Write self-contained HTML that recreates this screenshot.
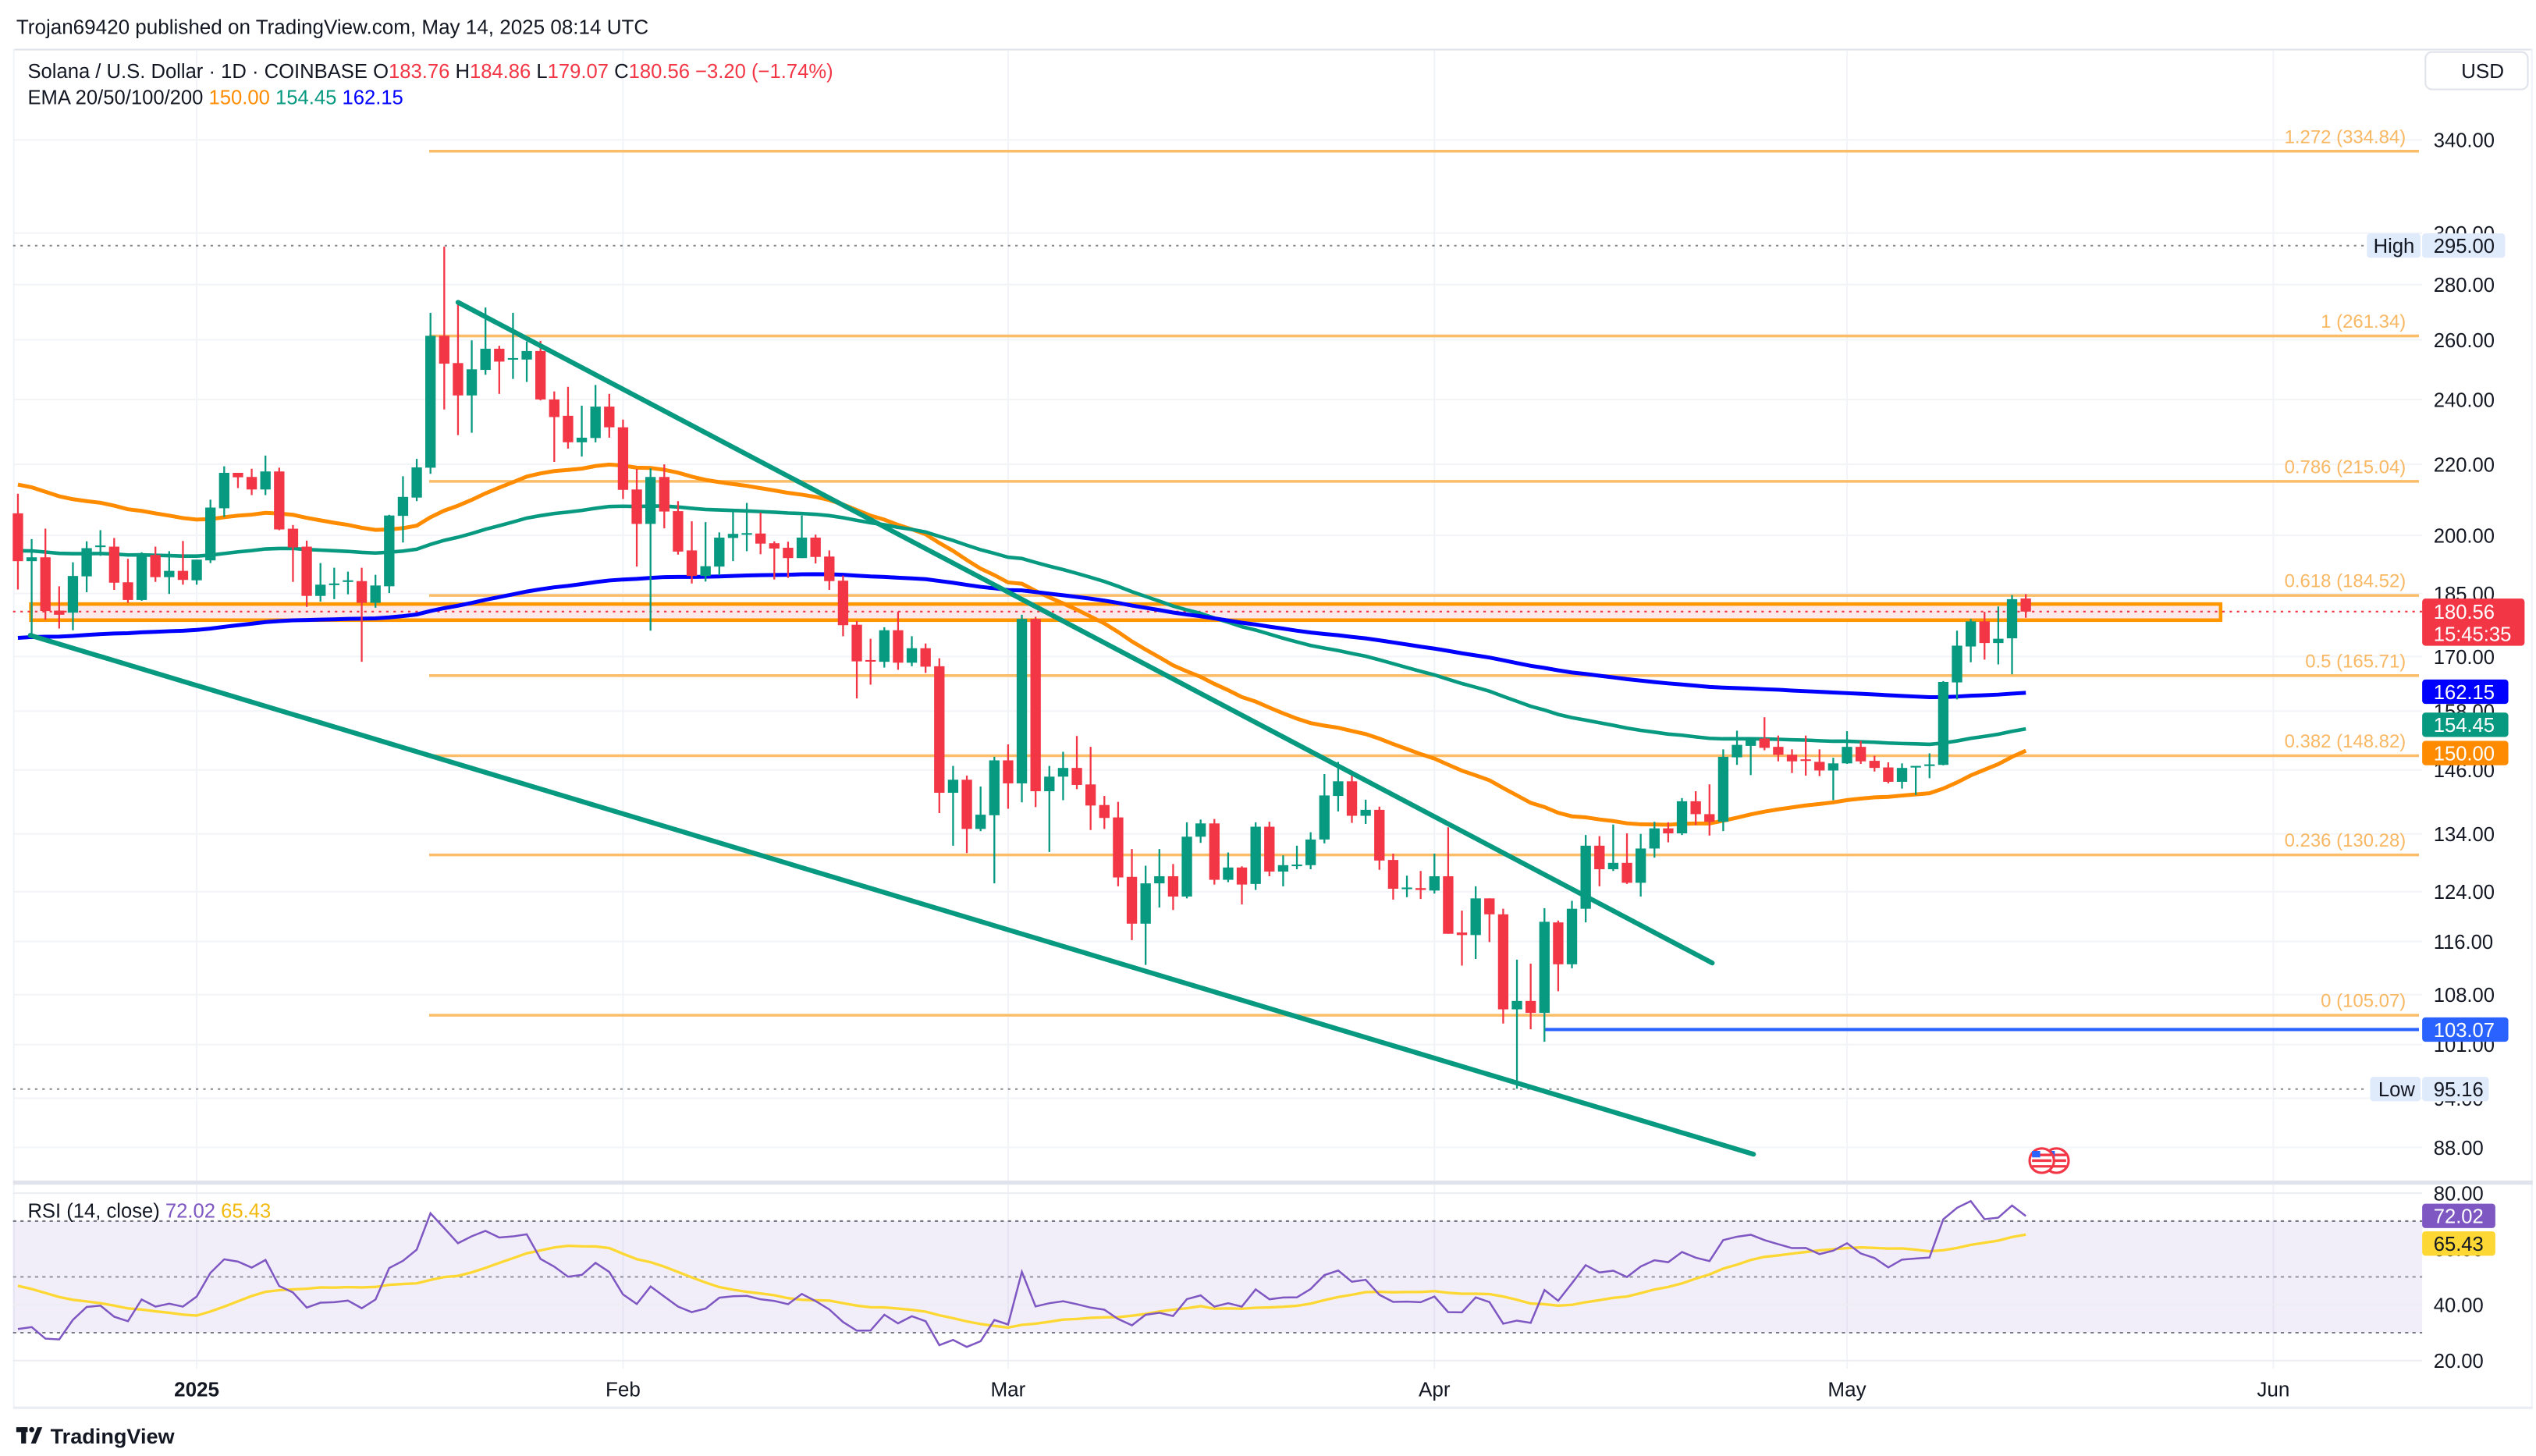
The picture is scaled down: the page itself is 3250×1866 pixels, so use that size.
<!DOCTYPE html>
<html><head><meta charset="utf-8"><style>
html,body{margin:0;padding:0;background:#fff;}
svg{display:block;font-family:"Liberation Sans",sans-serif;}
</style></head><body>
<svg id="chart" width="3250" height="1866" viewBox="0 0 1560 895.7" xmlns="http://www.w3.org/2000/svg">
<rect x="0" y="0" width="1560" height="896" fill="#ffffff"/>
<text x="10" y="21" font-size="12.5" fill="#131722">Trojan69420 published on TradingView.com, May 14, 2025 08:14 UTC</text>
<line x1="8" y1="30.5" x2="1558" y2="30.5" stroke="#e0e3eb" stroke-width="1"/>
<line x1="8.5" y1="30" x2="8.5" y2="866" stroke="#f0f3fa" stroke-width="1"/>
<line x1="1557.5" y1="30" x2="1557.5" y2="866" stroke="#f0f3fa" stroke-width="1"/>
<line x1="8" y1="866" x2="1558" y2="866" stroke="#e9ecf2" stroke-width="1.5"/>
<g id="grid"></g>
<g id="fib"></g>
<g id="overlay"></g>
<g id="ema"></g>
<g id="candles"></g>
<g id="trend"></g>
<g id="rsi"></g>
<g id="axis"></g>
<g id="taxis"></g>
<g>
<text x="17" y="48" font-size="12.3" fill="#131722">Solana / U.S. Dollar · 1D · COINBASE  <tspan>O</tspan><tspan fill="#f23645">183.76</tspan>  H<tspan fill="#f23645">184.86</tspan>  L<tspan fill="#f23645">179.07</tspan>  C<tspan fill="#f23645">180.56</tspan>  <tspan fill="#f23645">−3.20 (−1.74%)</tspan></text>
<text x="17" y="64" font-size="12.3" fill="#131722">EMA 20/50/100/200  <tspan fill="#ff8c00">150.00</tspan>  <tspan fill="#089981">154.45</tspan>  <tspan fill="#0000ff">162.15</tspan></text>
</g>
<g>
<rect x="1492" y="32" width="63" height="23" rx="4" fill="#fff" stroke="#e0e3eb"/>
<text x="1514" y="48" font-size="12.5" fill="#131722">USD</text>
</g>
<g>
<rect x="10" y="878" width="7" height="3" fill="#131722"/>
<rect x="13" y="878" width="3" height="10" fill="#131722"/>
<polygon points="19,888 23,878 26,878 22,888" fill="#131722"/>
<circle cx="19.5" cy="879.5" r="1.6" fill="#131722"/>
<text x="31" y="888" font-size="13" font-weight="bold" fill="#131722">TradingView</text>
</g>
</svg>
<script>
const startLabel = "2024-12-19";
const opens = [206,193.2,194.2,180.8,180.3,189.3,196.9,197,187.8,183.4,194.8,189.1,190.7,188.3,193.4,207.4,217.5,216.3,212.7,217.9,201.8,197,184.4,187.2,188.1,188.1,182.7,186.8,205.3,210.4,219,261.4,252,241.3,249.7,256.9,253.3,253.2,256.1,240,234.8,226.6,227.9,237.7,231.2,212.7,203.1,216.3,206.6,196,189.4,191.8,199.3,200.4,200.5,197.9,196.7,194,199.4,194.4,188.2,177.4,169.2,168.8,176.1,168.6,171.9,167.8,141.6,144.1,134.9,137.4,147.9,143.4,178.8,141.9,144.7,146.4,143.2,139.3,137,126.5,118.8,125.4,126.6,123.2,133.5,135.9,126,128.1,125.3,135.3,127.4,128.5,128.5,133,141,143.8,137.3,138.4,129.4,124.6,124.6,124.2,126.6,117.4,117,122.9,120.3,105.9,107.1,105.4,119,112.5,121.2,131.9,127.8,128.9,125.5,131.4,135,134.1,140,137.6,136.2,148.5,150.8,152.3,150.6,149,148.1,147.6,145.9,147.3,150.6,147.8,146.5,143.7,146.6,146.8,147,164.2,172.3,178.2,173.1,174.2,183.76];
const highs = [211.5,199,201.8,186.8,192.9,198.4,201.4,199.3,193.8,195.5,197,195.8,198.5,193.6,209.8,219.4,217.5,218.7,222.6,219,202.8,198.6,192.7,191.5,190.5,191.5,189.7,205.6,216.5,221.6,269.6,294.6,272.6,259.8,271.5,257.9,269.6,259.4,259.6,242.6,244.1,238,244.7,241.8,233.6,218.6,218.8,220,209.4,203.8,203.6,200.8,206.6,208.9,206.2,198.4,198.3,205.4,200.2,196,189.5,178.3,174.1,176.8,180.6,174.7,173,169.6,146.8,144.9,142.8,148.6,151.1,179.8,179.3,146.8,149.6,152.8,150.6,141,139.9,131.3,128.4,131.3,128.7,136.1,136.6,136.7,130.7,128.3,136.1,136.2,130.2,131.9,134.3,145.2,147.6,145,140.3,139,130.5,126.7,127.5,130.5,135.2,120.9,124.9,122.9,121.2,113.2,112.6,121.3,119.3,122.5,133.8,133.6,135.7,134.1,134,136.2,136.1,140.6,141.9,143.2,150.1,153.9,152.5,156.7,152.9,150.1,152.9,150.1,148.4,153.8,151.8,148.8,147.5,147.3,146.8,149.3,164.5,176,178.8,180.5,181.8,184.6,184.86];
const lows = [186,174.9,178.6,176.5,176.1,185.3,194.6,185.9,182.7,183.2,187.9,184.9,187.2,187.2,192.7,205,213.1,211.1,211.1,201.4,187.9,181.7,183,183.6,184.8,168.8,181.5,185.1,198.1,209.4,217.2,236.8,228.8,229.5,248.1,241.8,246.7,245.7,239.7,220.7,224.7,222.3,226.6,228,210,191.8,176,201.9,194.9,187.5,188,189.6,193.2,195.8,195,188.5,188.9,194,192.6,185.9,174.7,160.7,163.7,167.5,167,167.8,166.3,137.8,131.9,130.6,134.5,125.4,138.6,139.8,138.9,130.8,140.2,142.3,134.7,134.9,124.9,116.2,112.4,121.4,121,122.9,132.4,125.2,125.6,121.9,124.3,126.6,124.9,127.8,127.8,132.3,138.1,136,135.8,127.7,122.7,123.1,122.8,123.7,117.2,112.3,113.3,115.9,103.9,95.2,103.1,101.4,108.5,111.9,119,124.9,127.5,125.3,123.2,129.8,132.5,133.8,135.6,133.7,134.5,147,145,149.9,147.7,145.4,144.9,144.8,140.2,147.2,147.2,145.7,143.4,142.4,141.2,144.4,146.9,160.5,168.7,169.3,168.2,166,179.07];
const closes = [193.2,194.2,180.7,179.8,189.4,196.6,197.3,187.7,183.4,195.1,189.1,190.7,188.4,193.6,207.6,217.5,216.2,212.7,217.9,201.6,196.8,184.4,187.2,187.5,188.3,182.7,187,205.4,210.6,219.1,261.4,251.8,241.3,249.9,256.9,252.5,253.7,256.1,240,234.4,226.6,228,237.7,231.2,212.6,203.1,216.3,206.5,195.7,189.4,191.9,199.4,200.4,200.6,197.8,196.5,194,199.4,194.3,188.1,177.3,168.9,169,176.1,168.6,171.9,167.7,141.6,144.1,134.9,137.5,147.9,143.4,178.8,141.9,144.7,146.4,143.1,139.2,136.9,126.4,118.8,125.4,126.6,123.2,133.5,135.9,126,128.1,125.2,135.3,127.4,128.5,128.6,133,141.1,143.8,137.3,138.4,129.3,124.5,124.7,124.3,126.6,117.2,117,122.9,120.3,105.9,107.1,105.4,119.1,112.5,121.2,131.9,127.8,128.9,125.5,131.4,135,134.1,140,137.6,136.2,148.6,151,152.3,150.4,149,147.7,147.8,145.9,147.3,150.6,147.7,146.4,143.7,146.4,146.8,147.1,164.3,172.5,178.2,173.1,174.1,183.6,180.56];
const emaPeriods = [50, 100, 200];
const emaSeeds = [214.1, 195.9, 174.3];
const fibLevels = ["1.272","1","0.786","0.618","0.5","0.382","0.236","0"];
const fibPrices = [334.84,261.34,215.04,184.52,165.71,148.82,130.28,105.07];
const priceTicks = [340,300,280,260,240,220,200,185,170,158,146,134,124,116,108,101,94,88];
const rsiTicks = [80,60,40,20];
const monthLabels = ["2025","Feb","Mar","Apr","May","Jun"];
const monthIndex = [13,44,72,103,133,164];
const upperTrend = [[32,273.4],[123.2,112.7]];
const lowerTrend = [[0.9,174.9],[126.2,87.2]];
const highPrice = 295.00, lowPrice = 95.16, lastPrice = 180.56;
const supportPrice = 103.07, supportStart = 111;
const zoneTop = 182.4, zoneBottom = 178.5;
const rsiSeedGain = 2.5, rsiSeedLoss = 4.5, rsiMaSeed = 48;

const NS="http://www.w3.org/2000/svg";
const X=i=>11+i*8.46;
const Y=p=>86+458.6*Math.log(340/p);
const YR=v=>734+(80-v)*1.717;
function el(tag,parent,attrs){const e=document.createElementNS(NS,tag);for(const k in attrs)e.setAttribute(k,attrs[k]);parent.appendChild(e);return e;}
const G=id=>document.getElementById(id);

// grid
const grid=G('grid');
priceTicks.forEach(p=>{const l=el('line',grid,{x1:8,x2:1490,y1:Y(p),y2:Y(p),stroke:'#f2f4f8','stroke-width':1});

});
monthIndex.forEach(i=>{const l=el('line',grid,{x1:X(i),x2:X(i),y1:31,y2:842,stroke:'#f2f4f8','stroke-width':1});

});

// fib
const fib=G('fib');
fibPrices.forEach((p,k)=>{const l=el('line',fib,{x1:264,x2:1488,y1:Y(p),y2:Y(p),stroke:'#fbbd68','stroke-width':1.7});


const t=el('text',fib,{x:1480,y:Y(p)-5,'font-size':11.5,fill:'#f8b864','text-anchor':'end'});
t.textContent=fibLevels[k]+' ('+p.toFixed(2)+')';

});

// overlays
const ov=G('overlay');
const z=el('rect',ov,{x:19,y:Y(zoneTop),width:1347,height:Y(zoneBottom)-Y(zoneTop),fill:'#fde8ea',stroke:'#ff9800','stroke-width':2.2});


const hl=el('line',ov,{x1:8,x2:1455,y1:Y(highPrice),y2:Y(highPrice),stroke:'#888','stroke-width':1,'stroke-dasharray':'1.5,3'});


const ll=el('line',ov,{x1:8,x2:1457,y1:Y(lowPrice),y2:Y(lowPrice),stroke:'#888','stroke-width':1,'stroke-dasharray':'1.5,3'});


const cl=el('line',ov,{x1:8,x2:1490,y1:Y(lastPrice),y2:Y(lastPrice),stroke:'#f23645','stroke-width':1,'stroke-dasharray':'1.5,3'});


const sl=el('line',ov,{x1:X(supportStart),x2:1488,y1:Y(supportPrice),y2:Y(supportPrice),stroke:'#2962ff','stroke-width':2});



// EMAs
const ema=G('ema');const emaColors=['#ff8c00','#089981','#0000ff'];const emaNames=['ema-50-line','ema-100-line','ema-200-line'];
const emaVals=[];
emaPeriods.forEach((n,k)=>{const a=2/(n+1);let v=emaSeeds[k];const arr=[v];for(let i=1;i<closes.length;i++){v=a*closes[i]+(1-a)*v;arr.push(v);}emaVals.push(arr);
const d=arr.map((v,i)=>(i?'L':'M')+X(i).toFixed(1)+','+Y(v).toFixed(1)).join('');
const p=el('path',ema,{d:d,fill:'none',stroke:emaColors[k],'stroke-width':k==1?2.2:2.4});

});

// candles
const cg=G('candles');
closes.forEach((c,i)=>{const o=opens[i],up=c>=o,col=up?'#089981':'#f23645';const x=X(i);
const w=el('line',cg,{x1:x,x2:x,y1:Y(highs[i]),y2:Y(lows[i]),stroke:col,'stroke-width':1.1});


const t=Y(Math.max(o,c)),b=Y(Math.min(o,c));
const r=el('rect',cg,{x:x-3.2,y:t,width:6.4,height:Math.max(b-t,1),fill:col});

});

// trendlines
const tr=G('trend');
[upperTrend,lowerTrend].forEach((seg,k)=>{const l=el('line',tr,{x1:X(seg[0][0]),y1:Y(seg[0][1]),x2:X(seg[1][0]),y2:Y(seg[1][1]),stroke:'#089981','stroke-width':3,'stroke-linecap':'round'});

});

// RSI
const rg=G('rsi');
const sep=el('line',rg,{x1:8,x2:1558,y1:727.5,y2:727.5,stroke:'#e0e3eb','stroke-width':2.5});


const band=el('rect',rg,{x:8,y:YR(70),width:1482,height:YR(30)-YR(70),fill:'#7e57c2','fill-opacity':0.1});


[70,50,30].forEach(v=>{const l=el('line',rg,{x1:8,x2:1490,y1:YR(v),y2:YR(v),stroke:v==50?'#9598a1':'#787b86','stroke-width':1,'stroke-dasharray':'2,2.5'});

});
[80,40,20].forEach(v=>{const l=el('line',rg,{x1:8,x2:1490,y1:YR(v),y2:YR(v),stroke:'#eceef3','stroke-width':1});

});
let ag=rsiSeedGain,al=rsiSeedLoss;const rsi=[];
closes.forEach((c,i)=>{const prev=i?closes[i-1]:opens[0];const ch=c-prev;ag=(ag*13+Math.max(ch,0))/14;al=(al*13+Math.max(-ch,0))/14;rsi.push(100-100/(1+ag/al));});
const hist=Array(13).fill(rsiMaSeed).concat(rsi);const rsiMa=rsi.map((v,i)=>{let s=0;for(let j=i;j<i+14;j++)s+=hist[j];return s/14;});
const mp=el('path',rg,{d:rsiMa.map((v,i)=>(i?'L':'M')+X(i).toFixed(1)+','+YR(v).toFixed(1)).join(''),fill:'none',stroke:'#fdd835','stroke-width':1.6});


const rp=el('path',rg,{d:rsi.map((v,i)=>(i?'L':'M')+X(i).toFixed(1)+','+YR(v).toFixed(1)).join(''),fill:'none',stroke:'#7e57c2','stroke-width':1.2});


const rl=el('text',rg,{x:17,y:749,'font-size':12.3,fill:'#131722'});
rl.innerHTML='RSI (14, close)  <tspan fill="#7e57c2">72.02</tspan>  <tspan fill="#f2b90f">65.43</tspan>';



// price axis
const ax=G('axis');
function label(y,txt,bg,fg,w,name){const r=el('rect',ax,{x:1490,y:y-7.5,width:w||53,height:15,rx:2,fill:bg});


const t=el('text',ax,{x:1497,y:y+4.5,'font-size':12.3,fill:fg});t.textContent=txt;

}
priceTicks.forEach(p=>{const t=el('text',ax,{x:1497,y:Y(p)+4.5,'font-size':12.3,fill:'#131722'});t.textContent=p.toFixed(2);

});
rsiTicks.forEach(v=>{const t=el('text',ax,{x:1497,y:YR(v)+4.5,'font-size':12.3,fill:'#131722'});t.textContent=v.toFixed(2);

});
label(Y(highPrice),highPrice.toFixed(2),'#dfeafb','#131722',51,'high-price');
const hb=el('rect',ax,{x:1456,y:Y(highPrice)-7.5,width:33,height:15,rx:2,fill:'#dfeafb'});


const ht=el('text',ax,{x:1460,y:Y(highPrice)+4.5,'font-size':12.3,fill:'#131722'});ht.textContent='High';


label(Y(lowPrice),lowPrice.toFixed(2),'#dfeafb','#131722',41,'low-price');
const lb=el('rect',ax,{x:1458,y:Y(lowPrice)-7.5,width:31,height:15,rx:2,fill:'#dfeafb'});


const lt=el('text',ax,{x:1463,y:Y(lowPrice)+4.5,'font-size':12.3,fill:'#131722'});lt.textContent='Low';


const lastBox=el('rect',ax,{x:1490,y:Y(lastPrice)-8,width:63,height:29,rx:2,fill:'#f23645'});


const lp=el('text',ax,{x:1497,y:Y(lastPrice)+4.5,'font-size':12.3,fill:'#fff'});lp.textContent=lastPrice.toFixed(2);


const cd=el('text',ax,{x:1497,y:Y(lastPrice)+18,'font-size':12.3,fill:'#fff'});cd.textContent='15:45:35';


const lastE=emaVals.map(a=>a[a.length-1]);
label(Y(162.15),'162.15','#0000ff','#fff',53,'ema-200-value');
label(Y(154.45)-2,'154.45','#089981','#fff',53,'ema-100-value');
label(Y(150.00)+2,'150.00','#ff8c00','#fff',53,'ema-50-value');
label(Y(supportPrice),supportPrice.toFixed(2),'#2962ff','#fff',53,'support-value');
label(748,'72.02','#7e57c2','#fff',45,'rsi-value');
label(765,'65.43','#fdd835','#131722',45,'rsi-ma-value');

// flag icon
const fg=el('g',ax,{});

[1265,1256].forEach(cx=>{const c=el('circle',fg,{cx:cx,cy:714,r:7.5,fill:'#fff',stroke:'#f23645','stroke-width':1.5});


[710.5,714,717.5].forEach(yy=>{const s=el('line',fg,{x1:cx-6,x2:cx+6,y1:yy,y2:yy,stroke:'#f23645','stroke-width':1.6});

});
const q=el('rect',fg,{x:cx-6,y:708,width:5,height:4,fill:'#2962ff'});

});

// time axis
const ta=G('taxis');
monthLabels.forEach((m,k)=>{const t=el('text',ta,{x:X(monthIndex[k]),y:859,'font-size':12.5,fill:'#131722','text-anchor':'middle','font-weight':k==0?'bold':'normal'});t.textContent=m;

});
</script>
</body></html>
